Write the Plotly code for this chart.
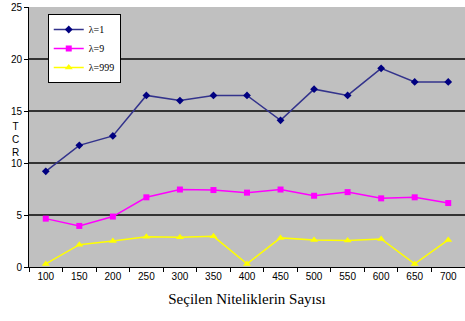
import plotly.graph_objects as go

categories = ["100", "150", "200", "250", "300", "350", "400", "450", "500", "550", "600", "650", "700"]
lambda1 = [9.2, 11.7, 12.6, 16.5, 16.0, 16.5, 16.5, 14.1, 17.1, 16.5, 19.1, 17.8, 17.8]
lambda9 = [4.65, 3.95, 4.85, 6.7, 7.45, 7.4, 7.15, 7.45, 6.85, 7.2, 6.6, 6.7, 6.15]
lambda999 = [0.3, 2.15, 2.5, 2.9, 2.85, 2.95, 0.3, 2.8, 2.6, 2.55, 2.7, 0.3, 2.6]
y_ticks = [0, 5, 10, 15, 20, 25]

fig = go.Figure()
fig.add_trace(go.Scatter(x=categories, y=lambda1, name="λ=1", mode="lines+markers",
                         line=dict(color="#33338C", width=1.5),
                         marker=dict(symbol="diamond", size=6, color="#000080")))
fig.add_trace(go.Scatter(x=categories, y=lambda9, name="λ=9", mode="lines+markers",
                         line=dict(color="#FF00FF", width=1.5),
                         marker=dict(symbol="square", size=6, color="#FF00FF")))
fig.add_trace(go.Scatter(x=categories, y=lambda999, name="λ=999", mode="lines+markers",
                         line=dict(color="#FFFF00", width=1.5),
                         marker=dict(symbol="triangle-up", size=7, color="#FFFF00")))

fig.update_layout(
    width=465, height=321,
    margin=dict(l=29, r=0, t=7, b=54, autoexpand=False),
    paper_bgcolor="white", plot_bgcolor="#C0C0C0",
    font=dict(family="Arial, Liberation Sans, sans-serif", size=10, color="black"),
    showlegend=True,
    legend=dict(x=0.043, y=0.973, xanchor="left", yanchor="top",
                bgcolor="white", bordercolor="black", borderwidth=1,
                font=dict(size=10, family="Liberation Serif, serif"),
                itemwidth=30, tracegroupgap=0),
    xaxis=dict(type="category", range=[-0.5, len(categories) - 0.5], showgrid=False,
               showline=True, linecolor="black",
               linewidth=1, ticks="outside", ticklen=4, tickcolor="black",
               tickson="boundaries", tickfont=dict(size=10), automargin=False,
               title=dict(text="Seçilen Niteliklerin Sayısı",
                          font=dict(family="Liberation Serif, Times New Roman, serif", size=15),
                          standoff=12)),
    yaxis=dict(range=[0, 25], tickvals=y_ticks, showgrid=True, gridcolor="#333333",
               gridwidth=1.5, showline=True, linecolor="black", linewidth=1,
               ticks="outside", ticklen=4, tickcolor="black", zeroline=False,
               tickfont=dict(size=10), automargin=False),
    annotations=[dict(text="T<br>C<br>R", x=-14/436, y=(267-139)/260,
                      xref="paper", yref="paper", xanchor="center", yanchor="middle",
                      showarrow=False, font=dict(size=10))],
)

fig.write_html("out.html", config={"displayModeBar": False},
               post_script="document.body.style.margin='0';document.body.style.overflow='hidden';")
